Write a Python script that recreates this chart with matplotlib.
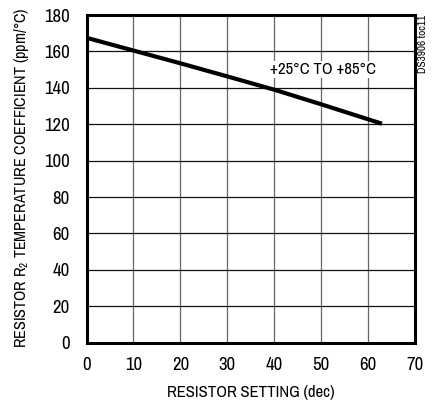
import matplotlib
matplotlib.use('Agg')
import matplotlib.pyplot as plt
from matplotlib import font_manager

setting = [0, 10, 20, 30, 40, 50, 63]
tempco = [167.5, 160.5, 153.5, 146.3, 139.0, 131.0, 120.3]

names = {f.name for f in font_manager.fontManager.ttflist}
first = 'Archivo Narrow' if 'Archivo Narrow' in names else 'Liberation Sans'
fam = [first, 'DejaVu Sans']
plt.rcParams['font.family'] = fam
plt.rcParams['mathtext.fontset'] = 'custom'
plt.rcParams['mathtext.rm'] = first

fig = plt.figure(figsize=(4.33, 4.07), dpi=100)
ax = fig.add_axes([0.200, 0.158, 0.758, 0.805])
ax.plot(setting, tempco, color='black', lw=3, solid_capstyle='butt')
ax.set_xlim(0, 70)
ax.set_ylim(0, 180)
ax.set_xticks(range(0, 71, 10))
ax.set_yticks(range(0, 181, 20))
ax.xaxis.grid(True, color='#666666', lw=0.9)
ax.yaxis.grid(True, color='#111111', lw=0.9)
ax.tick_params(length=0, labelsize=13.5)
ax.tick_params(axis='y', pad=12)
ax.tick_params(axis='x', pad=10)
for s in ax.spines.values():
	s.set_linewidth(2.2)
ax.set_xlabel('RESISTOR SETTING (dec)', size=12, labelpad=9)
ax.set_ylabel('RESISTOR R$_2$ TEMPERATURE COEFFICIENT (ppm/°C)', size=11.6)
ax.yaxis.set_label_coords(-0.17, 0.505)
ax.text(50.4, 150, '+25°C TO +85°C', size=12, ha='center', va='center',
	bbox=dict(facecolor='white', edgecolor='none', pad=1))
fig.text(0.978, 0.963, 'DS3906 toc11', rotation=90, size=8, ha='center', va='top')
fig.savefig('out.png', dpi=100)
